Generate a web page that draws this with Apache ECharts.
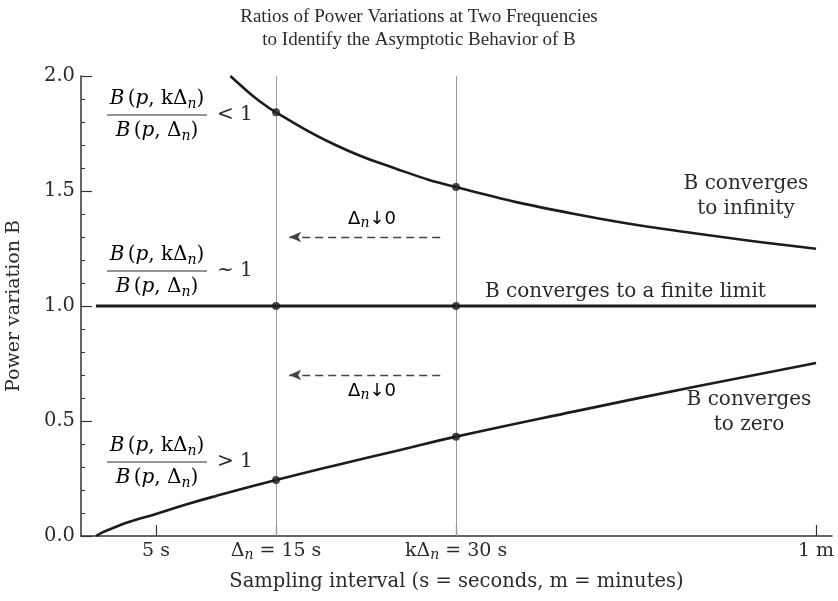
<!DOCTYPE html>
<html>
<head>
<meta charset="utf-8">
<script src="https://cdn.jsdelivr.net/npm/echarts@6/dist/echarts.min.js"></script>
<style>
  html, body { margin: 0; padding: 0; background: #fff; }
  #chart { width: 838px; height: 601px; }
</style>
</head>
<body>
<div id="chart"></div>
<script>
// Sampling interval in seconds and power variation B for the three regimes
const tLow  = [0, 0.5, 1, 2, 3, 5, 7.5, 10, 15, 20, 25, 30, 40, 50, 60];
const bLow  = [0, 0.015, 0.026, 0.047, 0.065, 0.096, 0.137, 0.174, 0.243, 0.308, 0.370, 0.432, 0.543, 0.650, 0.752];
const tHigh = [11.2, 12, 13.5, 15, 20, 25, 30, 40, 50, 60];
const bHigh = [2.0, 1.962, 1.896, 1.842, 1.699, 1.597, 1.517, 1.399, 1.315, 1.249];
const tFlat = [0, 60];
const bFlat = [1, 1];

// The two sampling frequencies being compared (Δn and kΔn)
const markT = [15, 30];
const markHigh = [1.842, 1.517];
const markFlat = [1, 1];
const markLow = [0.243, 0.432];

// x-axis ticks
const tickSeconds = [5, 15, 30, 60];
const tickLabels = ['{r|5 s}', '{r|Δ}{s|n}{r| = 15 s}', '{r|kΔ}{s|n}{r| = 30 s}', '{r|1 m}'];

const SERIF = '"DejaVu Serif", serif';
const INK = '#1c1c1c';
const TXT = '#2b2b2b';
const FS = 20;

const zip = (xs, ys) => xs.map((x, i) => [x, ys[i]]);

const fracRich = {
  i: { fontFamily: SERIF, fontStyle: 'italic', fontSize: FS, lineHeight: 24, color: TXT, verticalAlign: 'middle' },
  r: { fontFamily: SERIF, fontSize: FS, lineHeight: 24, color: TXT, verticalAlign: 'middle' },
  s: { fontFamily: SERIF, fontStyle: 'italic', fontSize: 14, lineHeight: 14, color: TXT, verticalAlign: 'bottom' }
};
const tickRich = {
  r: { fontFamily: SERIF, fontSize: 19, lineHeight: 22, color: TXT, verticalAlign: 'middle' },
  s: { fontFamily: SERIF, fontStyle: 'italic', fontSize: 14, lineHeight: 13, color: TXT, verticalAlign: 'bottom' }
};
const arrowRich = {
  d: { fontFamily: '"DejaVu Sans", sans-serif', fontSize: 18, lineHeight: 22, color: TXT, verticalAlign: 'middle' },
  s: { fontFamily: SERIF, fontStyle: 'italic', fontSize: 14, lineHeight: 13, color: TXT, verticalAlign: 'bottom' }
};

// ratio B(p,kΔn)/B(p,Δn) with its relation sign
function fraction(cx, barY, relation) {
  return [
    { type: 'text', style: { text: '{i|B} {r|(}{i|p}{r|, kΔ}{s|n}{r|)}', rich: fracRich, x: cx, y: barY - 16, align: 'center', verticalAlign: 'middle' } },
    { type: 'line', shape: { x1: cx - 50, y1: barY, x2: cx + 50, y2: barY }, style: { stroke: TXT, lineWidth: 1 } },
    { type: 'text', style: { text: '{i|B} {r|(}{i|p}{r|, Δ}{s|n}{r|)}', rich: fracRich, x: cx, y: barY + 16, align: 'center', verticalAlign: 'middle' } },
    { type: 'text', style: { text: relation, fontFamily: SERIF, fontSize: FS, fill: TXT, x: cx + 60, y: barY, align: 'left', verticalAlign: 'middle' } }
  ];
}
function arrowLabel(cx, cy) {
  return { type: 'text', style: { text: '{d|Δ}{s|n}{d|↓0}', rich: arrowRich, x: cx, y: cy, align: 'center', verticalAlign: 'middle' } };
}
function note(cx, cy, text, align) {
  return { type: 'text', style: { text: text, fontFamily: SERIF, fontSize: FS, lineHeight: 25, fill: TXT, x: cx, y: cy, align: align || 'center', verticalAlign: 'middle' } };
}

const chart = echarts.init(document.getElementById('chart'), null, { renderer: 'canvas' });

const curveStyle = { color: INK, width: 2.6 };

chart.setOption({
  animation: false,
  backgroundColor: '#fff',
  title: {
    text: 'Ratios of Power Variations at Two Frequencies\nto Identify the Asymptotic Behavior of B',
    left: 'center',
    top: 1,
    textStyle: { fontFamily: '"Liberation Serif", serif', fontWeight: 'normal', fontSize: 19, lineHeight: 23, color: TXT }
  },
  grid: { left: 81, right: 6, top: 76, bottom: 65, containLabel: false, outerBoundsMode: 'none' },
  xAxis: {
    type: 'value',
    min: -1.25,
    max: 61.33,
    name: 'Sampling interval (s = seconds, m = minutes)',
    nameLocation: 'middle',
    nameGap: 36,
    nameTextStyle: { fontFamily: SERIF, fontSize: 19.5, color: TXT },
    axisLine: { onZero: false, lineStyle: { color: '#333', width: 1.5 } },
    axisTick: { show: true, inside: true, length: 11, customValues: tickSeconds, lineStyle: { color: '#333', width: 1.2 } },
    axisLabel: {
      customValues: tickSeconds,
      margin: 4,
      formatter: (v) => tickLabels[tickSeconds.indexOf(v)] || '',
      rich: tickRich
    },
    splitLine: { show: false }
  },
  yAxis: {
    type: 'value',
    min: 0,
    max: 2,
    interval: 0.5,
    name: 'Power variation B',
    nameLocation: 'middle',
    nameGap: 57,
    nameTextStyle: { fontFamily: SERIF, fontSize: 19, color: TXT },
    axisLine: { show: true, onZero: false, lineStyle: { color: '#333', width: 1.5 } },
    axisTick: { show: true, inside: true, length: 11, lineStyle: { color: '#333', width: 1.2 } },
    minorTick: { show: true, splitNumber: 5, length: 4, lineStyle: { color: '#333', width: 1 } },
    axisLabel: { margin: 6, fontFamily: SERIF, fontSize: 19.5, color: TXT, formatter: (v) => v.toFixed(1) },
    splitLine: { show: false }
  },
  series: [
    {
      name: 'reference frequencies',
      type: 'line',
      data: [],
      silent: true,
      markLine: {
        silent: true,
        symbol: ['none', 'none'],
        label: { show: false },
        lineStyle: { color: '#9a9a9a', width: 1, type: 'solid' },
        data: markT.map((t) => ({ xAxis: t }))
      }
    },
    {
      name: 'Δn↓0',
      type: 'line',
      data: [],
      silent: true,
      markLine: {
        silent: true,
        symbol: ['arrow', 'none'],
        symbolSize: [8, 12],
        label: { show: false },
        lineStyle: { color: '#444', width: 1.3, type: [8, 5] },
        data: [
          [{ coord: [16.1, 1.30] }, { coord: [29.1, 1.30] }],
          [{ coord: [16.1, 0.70] }, { coord: [29.1, 0.70] }]
        ]
      }
    },
    { name: 'to infinity', type: 'line', data: zip(tHigh, bHigh), smooth: true, showSymbol: false, lineStyle: curveStyle, clip: true },
    { name: 'finite limit', type: 'line', data: zip(tFlat, bFlat), showSymbol: false, lineStyle: { color: INK, width: 3 } },
    { name: 'to zero', type: 'line', data: zip(tLow, bLow), smooth: true, showSymbol: false, lineStyle: curveStyle },
    {
      name: 'points',
      type: 'scatter',
      symbolSize: 8,
      itemStyle: { color: INK },
      data: [].concat(zip(markT, markHigh), zip(markT, markFlat), zip(markT, markLow)),
      z: 5
    }
  ],
  graphic: [].concat(
    fraction(157, 115, '< 1'),
    fraction(157, 271, '~ 1'),
    fraction(157, 462, '> 1'),
    [
      arrowLabel(372, 219),
      arrowLabel(372, 391),
      note(746, 196, 'B converges\nto infinity'),
      note(485, 292, 'B converges to a finite limit', 'left'),
      note(749, 412, 'B converges\nto zero')
    ]
  )
});
</script>
</body>
</html>
